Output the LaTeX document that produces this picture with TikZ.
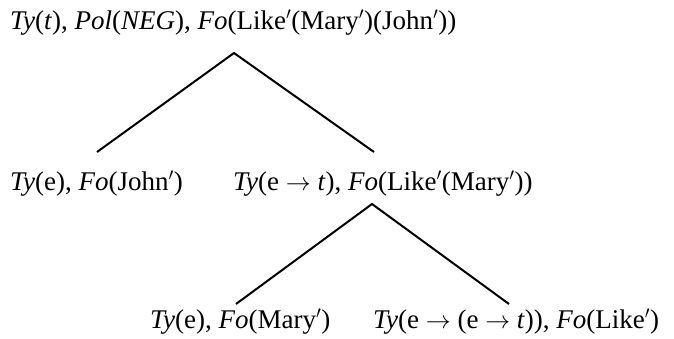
\documentclass[tikz,border=0pt]{standalone}
\usepackage{fontspec}
\setmainfont{Liberation Serif}
\usetikzlibrary{positioning}

\newcommand{\pr}{$'$}
\newcommand{\arr}{$\rightarrow$}

\begin{document}
\begin{tikzpicture}[
    x=1pt, y=-1pt,
    lbl/.style={anchor=base west, inner sep=0pt, font=\fontsize{27}{32}\selectfont},
    br/.style={-, line width=2pt, black}
  ]
    \useasboundingbox (0,0) rectangle (674,338);
    \node[lbl] (root) at (10,29) {\textit{Ty}(\textit{t}), \textit{Pol}(\textit{NEG}), \textit{Fo}(Like\pr(Mary\pr)(John\pr))};
    \node[lbl] (john) at (10,190) {\textit{Ty}(e), \textit{Fo}(John\pr)};
    \node[lbl] (likemary) at (233,190) {\textit{Ty}(e \arr\ \textit{t}), \textit{Fo}(Like\pr(Mary\pr))};
    \node[lbl] (mary) at (150,328) {\textit{Ty}(e), \textit{Fo}(Mary\pr)};
    \node[lbl] (like) at (373,328) {\textit{Ty}(e \arr\ (e \arr\ \textit{t})), \textit{Fo}(Like\pr)};
    % fork points
    \coordinate (rootfork) at ([xshift=224pt,yshift=-24pt]root.base west);
    \coordinate (lmfork) at ([xshift=139pt,yshift=-14pt]likemary.base west);
    \draw[br] ([xshift=87pt,yshift=38pt]john.base west) -- (rootfork) -- ([xshift=141pt,yshift=38pt]likemary.base west);
    \draw[br] ([xshift=86pt,yshift=24pt]mary.base west) -- (lmfork) -- ([xshift=136pt,yshift=24pt]like.base west);
  \end{tikzpicture}
\end{document}
